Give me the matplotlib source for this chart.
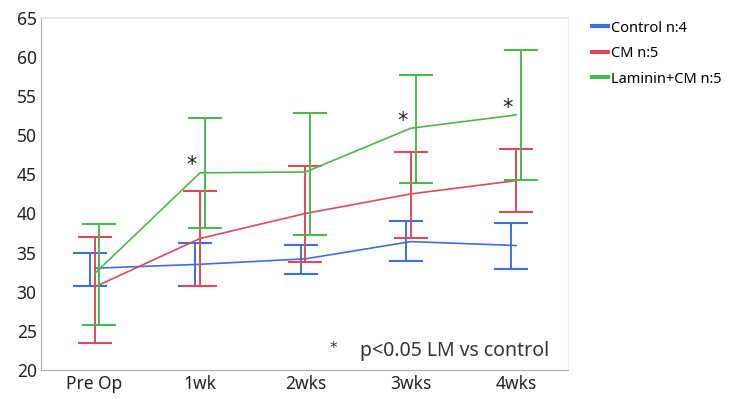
import matplotlib
matplotlib.use("Agg")
import matplotlib.pyplot as plt

plt.rcParams['font.family'] = ['Noto Sans', 'DejaVu Sans']

# time points
categories = ['Pre Op', '1wk', '2wks', '3wks', '4wks']

# mean values and error bar ends
control_mean = [33.0, 33.5, 34.2, 36.4, 35.9]
control_low = [30.7, 30.7, 32.3, 33.9, 32.9]
control_high = [35.0, 36.2, 36.0, 39.0, 38.8]

cm_mean = [30.6, 36.8, 40.0, 42.5, 44.2]
cm_low = [23.5, 30.7, 33.8, 36.8, 40.2]
cm_high = [37.0, 42.9, 46.1, 47.9, 48.3]

lm_mean = [32.3, 45.2, 45.3, 50.9, 52.6]
lm_low = [25.7, 38.1, 37.3, 43.9, 44.3]
lm_high = [38.7, 52.2, 52.9, 57.7, 60.9]

# time points with p<0.05 (LM vs control)
sig_idx = [1, 3, 4]

series = [
    ('Control n:4', control_mean, control_low, control_high, '#3f6fdc', -0.045),
    ('CM n:5', cm_mean, cm_low, cm_high, '#dc4a5c', 0.0),
    ('Laminin+CM n:5', lm_mean, lm_low, lm_high, '#4cb84c', 0.045),
]

fig = plt.figure(figsize=(7.29, 3.99), dpi=100)
ax = fig.add_axes([0.056, 0.073, 0.723, 0.882])

x = list(range(len(categories)))
for label, mean, low, high, color, off in series:
    ax.plot(x, mean, color=color, lw=1.2, label=label)
    xe = [i + off for i in x]
    yerr = [[m - l for m, l in zip(mean, low)], [h - m for m, h in zip(mean, high)]]
    ax.errorbar(xe, mean, yerr=yerr, fmt='none', ecolor=color, elinewidth=1.4,
                capsize=12, capthick=1.5)

for i in sig_idx:
    ax.annotate('*', xy=(i, lm_mean[i]), xytext=(-6, 1), textcoords='offset points',
                ha='center', va='baseline', fontsize=15, family='DejaVu Sans',
                color='#222222')

ax.text(0.548, 0.06, '*', transform=ax.transAxes, fontsize=11, ha='left',
        va='center', family='DejaVu Sans', color='#333333')
ax.text(0.605, 0.054, 'p<0.05 LM vs control', transform=ax.transAxes, fontsize=14,
        ha='left', va='center', color='#333333')

ax.set_xlim(-0.51, 4.49)
ax.set_ylim(20, 65)
ax.set_yticks(range(20, 66, 5))
ax.set_xticks(x)
ax.set_xticklabels(categories)
ax.tick_params(axis='both', length=0, labelsize=12.5, colors='#222222')
ax.tick_params(axis='x', pad=4)
ax.tick_params(axis='y', pad=3)

ax.spines['left'].set_color('#aaaaaa')
ax.spines['bottom'].set_color('#aaaaaa')
ax.spines['top'].set_color('#e6e6e6')
ax.spines['right'].set_color('#f0f0f0')
ax.spines['top'].set_linewidth(1.5)

leg = ax.legend(loc='upper left', bbox_to_anchor=(1.02, 1.03), frameon=False,
                fontsize=10.5, handlelength=1.15, handletextpad=0.2, labelspacing=0.72)
for h in leg.get_lines():
    h.set_linewidth(3)

fig.savefig('out.png', dpi=100)
